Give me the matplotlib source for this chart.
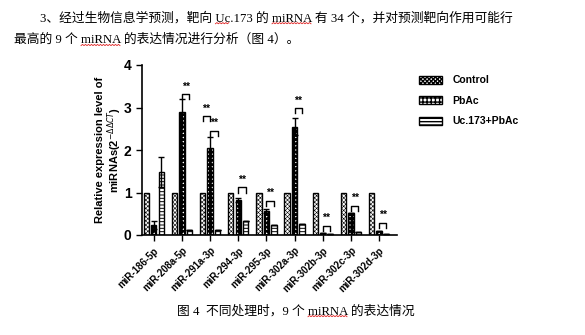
import matplotlib.pyplot as plt
import matplotlib as mpl
import numpy as np

mirnas = ['miR-186-5p', 'miR-208a-5p', 'miR-291a-3p', 'miR-294-3p', 'miR-295-3p',
          'miR-302a-3p', 'miR-302b-3p', 'miR-302c-3p', 'miR-302d-3p']
control = [1, 1, 1, 1, 1, 1, 1, 1, 1]
pbac = [0.24, 2.89, 2.05, 0.82, 0.57, 2.55, 0.05, 0.51, 0.10]
pbac_err = [0.10, 0.32, 0.26, 0.05, 0.05, 0.20, 0.0, 0.0, 0.0]
uc_pbac = [1.49, 0.12, 0.12, 0.32, 0.23, 0.25, 0.02, 0.07, 0.02]
uc_err = [0.35, 0.0, 0.0, 0.0, 0.0, 0.0, 0.0, 0.0, 0.0]
# significance brackets: (group, from bar, to bar, height)
sig = [(1, 1, 2, 3.31), (2, 0, 1, 2.80), (2, 1, 2, 2.45), (3, 1, 2, 1.12),
       (4, 1, 2, 0.81), (5, 1, 2, 2.98), (6, 1, 2, 0.22), (7, 1, 2, 0.69),
       (8, 1, 2, 0.29)]

body = "3、经过生物信息学预测，靶向 Uc.173 的 miRNA 有 34 个，并对预测靶向作用可能行"
body2 = "最高的 9 个 miRNA 的表达情况进行分析（图 4）。"
caption = "图 4  不同处理时，9 个 miRNA 的表达情况"

fig = plt.figure(figsize=(5.85, 3.35), dpi=100)
cjk = ['Liberation Serif', 'Noto Sans CJK SC']
t1 = fig.text(40 / 585, 1 - 18 / 335, body, family=cjk, fontsize=9.2, va='center', ha='left')
t2 = fig.text(14 / 585, 1 - 40 / 335, body2, family=cjk, fontsize=9.2, va='center', ha='left')
t3 = fig.text(177 / 585, 1 - 311 / 335, caption, family=cjk, fontsize=9.2, va='center', ha='left')

# red spell-check squiggles under some words
renderer = fig.canvas.get_renderer()


def squiggle(t, word):
    s = t.get_text()
    i = s.index(word)
    bb = t.get_window_extent(renderer)
    def width(sub):
        tmp = fig.text(0, 0, sub, family=cjk, fontsize=t.get_fontsize())
        w = tmp.get_window_extent(renderer).width if sub else 0
        tmp.remove()
        return w
    x0 = bb.x0 + width(s[:i])
    x1 = bb.x0 + width(s[:i + len(word)])
    xs = np.arange(x0, x1, 1.5)
    ys = bb.y0 + 0.5 + np.where(np.arange(len(xs)) % 2 == 0, 0, 1.2)
    fig.add_artist(plt.Line2D(xs / 585, ys / 335, color='#e02020', lw=0.6))


squiggle(t1, 'Uc')
squiggle(t1, 'miRNA')
squiggle(t2, 'miRNA')
squiggle(t3, 'miRNA')

ax = fig.add_axes([142 / 585, 1 - 235 / 335, 255 / 585, 170 / 335])
x = np.arange(len(mirnas))
w = 0.19
off = 0.265
with mpl.rc_context({'hatch.linewidth': 0.4}):
    ax.bar(x - off, control, w, color='white', edgecolor='black', hatch='xxxxxxxx',
           linewidth=1.0, label='Control')
with mpl.rc_context({'hatch.linewidth': 2.0}):
    ax.bar(x, pbac, w, color='white', edgecolor='black', hatch='++++', linewidth=1.0,
           yerr=pbac_err, error_kw=dict(elinewidth=1, capsize=2, capthick=1), label='PbAc')
with mpl.rc_context({'hatch.linewidth': 0.7}):
    ax.bar(x + off, uc_pbac, w, color='white', edgecolor='black', hatch='-----',
           linewidth=1.0, yerr=uc_err, error_kw=dict(elinewidth=1, capsize=2, capthick=1),
           label='Uc.173+PbAc')

for g, a, b, h in sig:
    xa = g + (a - 1) * off
    xb = g + (b - 1) * off
    ax.plot([xa, xa, xb, xb], [h - 0.12, h, h, h - 0.12], color='black', lw=1)
    ax.text((xa + xb) / 2, h + 0.06, '**', ha='center', va='bottom', fontsize=7.5,
            fontweight='bold', family='Liberation Sans')

ax.set_xlim(-0.42, 8.64)
ax.set_ylim(0, 4)
ax.set_yticks([0, 1, 2, 3, 4])
ax.set_xticks(x)
ax.set_xticklabels(mirnas, rotation=45, ha='right', rotation_mode='anchor',
                   fontsize=7, fontweight='bold', family='Liberation Sans')
for lab in ax.get_yticklabels():
    lab.set_fontsize(10)
    lab.set_fontweight('bold')
    lab.set_family('Liberation Sans')
ax.tick_params(axis='both', direction='out', length=4, width=1)
ax.spines['top'].set_visible(False)
ax.spines['right'].set_visible(False)
ax.spines['left'].set_linewidth(1.2)
ax.spines['bottom'].set_linewidth(1.2)
ax.set_ylabel('Relative expression level of\nmiRNAs(2$^{-\\Delta\\Delta CT}$)',
              fontsize=8, fontweight='bold', family='Liberation Sans', labelpad=0,
              linespacing=1.0)

ax.legend(loc='upper left', bbox_to_anchor=(410 / 585, 1 - 66 / 335),
          bbox_transform=fig.transFigure, frameon=False,
          prop=dict(family='Liberation Sans', weight='bold', size=7.5),
          handlelength=2.2, handleheight=0.8, labelspacing=1.0, handletextpad=1.0)

fig.savefig('out.png', dpi=100)
